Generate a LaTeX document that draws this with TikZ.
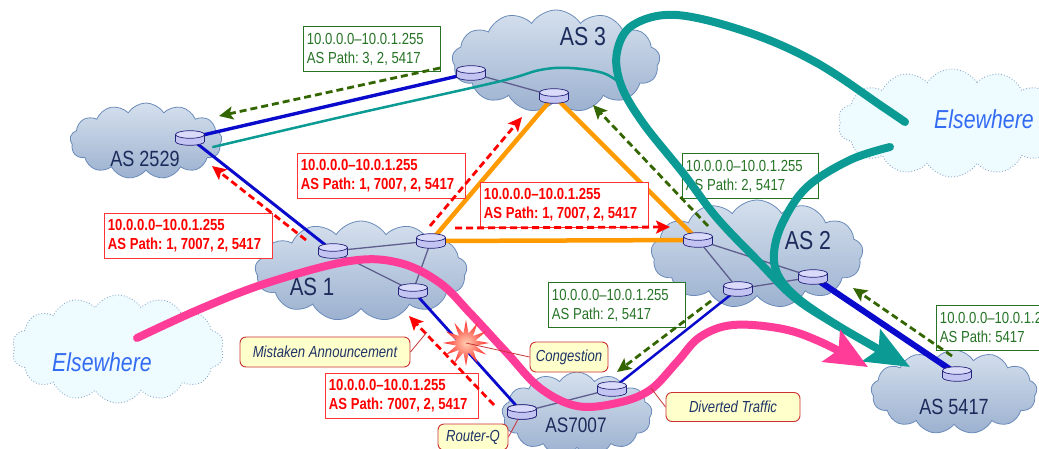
\documentclass[tikz,border=0pt]{standalone}
\usepackage{fontspec}
\setmainfont{Liberation Sans}[FakeStretch=0.82]
\frenchspacing
\usetikzlibrary{shapes.symbols,shapes.geometric,arrows.meta,calc}

\definecolor{cloudtop}{HTML}{D5E0ED}
\definecolor{cloudbot}{HTML}{9CB1D0}
\definecolor{cloudedge}{HTML}{6A8BBA}
\definecolor{skyfill}{HTML}{EEFCFF}
\definecolor{skyedge}{HTML}{8EA8C8}
\definecolor{skytext}{HTML}{336BF2}
\definecolor{asnavy}{HTML}{1B2B5B}
\definecolor{linkblue}{HTML}{0A0ACC}
\definecolor{linkgray}{HTML}{5E5E8E}
\definecolor{peerorange}{HTML}{FF9A00}
\definecolor{flowteal}{HTML}{0B9A94}
\definecolor{flowpink}{HTML}{FF3C98}
\definecolor{annred}{HTML}{FF0000}
\definecolor{anngreen}{HTML}{336600}
\definecolor{boxgreen}{HTML}{267326}
\definecolor{calloutfill}{HTML}{FFFFCC}
\definecolor{calloutedge}{HTML}{C83232}
\definecolor{callouttext}{HTML}{1E3366}
\definecolor{routerfill}{HTML}{C4C4F2}
\definecolor{routertop}{HTML}{DADAFA}
\definecolor{routeredge}{HTML}{23237A}

% a router: small cylinder centred on an existing coordinate
\newcommand\drawrouter[1]{%
  \filldraw[fill=routerfill, draw=routeredge, line width=0.7pt]
    ($(#1)+(0,3.5)$) ellipse [x radius=14.5pt, y radius=3.8pt];
  \fill[routerfill] ($(#1)+(-14.5,-3.5)$) rectangle ($(#1)+(14.5,3.5)$);
  \draw[routeredge, line width=0.7pt]
    ($(#1)+(-14.5,-3.5)$) -- ($(#1)+(-14.5,3.5)$)
    ($(#1)+(14.5,-3.5)$) -- ($(#1)+(14.5,3.5)$);
  \filldraw[fill=routertop, draw=routeredge, line width=0.7pt]
    ($(#1)+(0,-3.5)$) ellipse [x radius=14.5pt, y radius=3.8pt];
}
% a two-line route announcement, lines kept unbroken
\newcommand\prefixlines[1]{\mbox{10.0.0.0–10.0.1.255}\\\mbox{AS Path: #1}}

\begin{document}
\begin{tikzpicture}[x=1pt, y=-1pt,
  ascloud/.style={cloud, cloud puffs=13, cloud puff arc=115, cloud ignores aspect,
    draw=cloudedge, line width=0.8pt, top color=cloudtop, bottom color=cloudbot, inner sep=0pt},
  skycloud/.style={cloud, cloud puffs=14, cloud puff arc=115, cloud ignores aspect,
    draw=skyedge, dotted, line width=0.9pt, fill=skyfill, inner sep=0pt},
  aslabel/.style={text=asnavy, inner sep=0pt},
  skylabel/.style={text=skytext, inner sep=0pt, font=\fontsize{26}{30}\selectfont\itshape},
  bluelink/.style={linkblue, line cap=round},
  innerlink/.style={linkgray, line width=1.3pt},
  redbox/.style={draw=annred!80, fill=white, line width=0.9pt, anchor=north west, align=flush left,
    inner xsep=3.5pt, inner ysep=0pt, minimum height=45pt, text=annred,
    font=\fontsize{16}{19}\selectfont\bfseries},
  greenbox/.style={draw=boxgreen, fill=white, line width=0.9pt, anchor=north west, align=flush left,
    inner xsep=3.5pt, inner ysep=0pt, minimum height=45pt, text=boxgreen,
    font=\fontsize{16}{19}\selectfont},
  redann/.style={annred, line width=2.8pt, dash pattern=on 7pt off 4pt,
    -{Stealth[length=14pt, width=13pt, inset=3pt]}},
  greenann/.style={anngreen, line width=2.8pt, dash pattern=on 7pt off 4pt,
    -{Stealth[length=14pt, width=13pt, inset=3pt]}},
  callout/.style={draw=calloutedge, fill=calloutfill, rounded corners=6pt, line width=0.9pt,
    text=callouttext, inner sep=0pt, font=\fontsize{16}{19}\selectfont\itshape},
  pointer/.style={calloutedge, line width=0.8pt},
  flow/.style={line width=8pt, line cap=round}
]
\useasboundingbox (0,0) rectangle (1039,448);

% --- outside world
\node[skycloud, minimum width=212pt, minimum height=108pt] (skyL) at (118,349) {};
\node[skycloud, minimum width=228pt, minimum height=108pt] (skyR) at (952,123) {};
\node[skylabel] (skyLt) at (102,362) {Elsewhere};
\node[skylabel] (skyRt) at (984,119) {Elsewhere};

% --- autonomous systems
\node[ascloud, minimum width=152pt, minimum height=76pt] (c2529) at (146,141) {};
\node[ascloud, minimum width=208pt, minimum height=102pt] (c3) at (556,61) {};
\node[ascloud, minimum width=212pt, minimum height=100pt] (c1) at (361,271) {};
\node[ascloud, minimum width=212pt, minimum height=108pt] (c2) at (757,254) {};
\node[ascloud, minimum width=150pt, minimum height=84pt] (c7007) at (577,414) {};
\node[ascloud, minimum width=166pt, minimum height=84pt] (c5417) at (954,392) {};

\node[aslabel, font=\fontsize{22}{26}\selectfont] (l2529) at (145,159) {AS 2529};
\node[aslabel, font=\fontsize{26}{30}\selectfont] (l3) at (583,37) {AS 3};
\node[aslabel, font=\fontsize{25}{30}\selectfont] (l1) at (312,287) {AS 1};
\node[aslabel, font=\fontsize{26}{30}\selectfont] (l2) at (808,241) {AS 2};
\node[aslabel, font=\fontsize{21}{25}\selectfont] (l7007) at (576,425) {AS7007};
\node[aslabel, font=\fontsize{22}{26}\selectfont] (l5417) at (954,407) {AS 5417};

% --- router positions
\coordinate (r2529) at (190,138);
\coordinate (r3a) at (471,73);
\coordinate (r3b) at (554,96);
\coordinate (r1a) at (333,251);
\coordinate (r1b) at (431,241);
\coordinate (r1c) at (413,291);
\coordinate (r2a) at (698,240);
\coordinate (r2b) at (813,277);
\coordinate (r2c) at (738,289);
\coordinate (rq) at (522,412);
\coordinate (r7b) at (612,389);
\coordinate (r5417) at (957,374);

% --- internal links
\draw[innerlink] (r3a) -- (r3b);
\draw[innerlink] (r1a) -- (r1b) -- (r1c) -- (r1a);
\draw[innerlink] (r2a) -- (r2b) -- (r2c) -- (r2a);
\draw[innerlink] (rq) -- (r7b);

% --- inter-AS links
\draw[bluelink, line width=3.4pt] (r2529) -- (r3a);
\draw[bluelink, line width=3pt] (r2529) -- (r1a);
\draw[bluelink, line width=2.8pt] (r1c) -- (rq);
\draw[bluelink, line width=2.5pt] (r7b) -- (r2c);
\draw[bluelink, line width=6pt] (r2b) -- (r5417);
\draw[peerorange, line width=4.5pt, line join=round] (r1b) -- (r3b) -- (r2a) -- cycle;

% --- routers
\foreach \r in {r2529,r3a,r3b,r1a,r1b,r1c,r2a,r2b,r2c,rq,r7b,r5417} {\drawrouter{\r}}

% --- route announcements
\node[greenbox, text width=130pt] (g1) at (303,26) {\prefixlines{3, 2, 5417}};
\node[greenbox, text width=129pt] (g2) at (682,153) {\prefixlines{2, 5417}};
\node[greenbox, text width=130pt] (g3) at (548,282) {\prefixlines{2, 5417}};
\node[greenbox, text width=130pt] (g4) at (936,305) {\prefixlines{5417}};

\node[redbox, text width=161pt] (rb1) at (297,153) {\prefixlines{1, 7007, 2, 5417}};
\node[redbox, text width=161pt] (rb2) at (480,182) {\prefixlines{1, 7007, 2, 5417}};
\node[redbox, text width=161pt] (rb3) at (104,213) {\prefixlines{1, 7007, 2, 5417}};
\node[redbox, text width=146pt] (rb4) at (325,373) {\prefixlines{7007, 2, 5417}};

% announcement directions
\coordinate (ga1s) at (440,68);  \coordinate (ga1e) at (219,116);
\coordinate (ga2s) at (708,226); \coordinate (ga2e) at (593,105);
\coordinate (ga3s) at (711,301); \coordinate (ga3e) at (617,372);
\coordinate (ga4s) at (952,356); \coordinate (ga4e) at (853,288);
\draw[greenann] (ga1s) -- (ga1e);
\draw[greenann] (ga2s) -- (ga2e);
\draw[greenann] (ga3s) -- (ga3e);
\draw[greenann] (ga4s) -- (ga4e);

\coordinate (ra1s) at (306,240); \coordinate (ra1e) at (212,166);
\coordinate (ra2s) at (430,226); \coordinate (ra2e) at (522,117);
\coordinate (ra3s) at (455,228); \coordinate (ra3e) at (670,227);
\coordinate (ra4s) at (494,405); \coordinate (ra4e) at (409,316);
\draw[redann] (ra1s) -- (ra1e);
\draw[redann] (ra2s) -- (ra2e);
\draw[redann] (ra3s) -- (ra3e);
\draw[redann] (ra4s) -- (ra4e);

% --- traffic flows
\draw[flowteal, line width=2.5pt, line cap=round] plot[smooth, tension=0.6] coordinates
  {(213,147) (350,115) (497,82) (540,70) (570,68) (603,73) (621,84)};
\draw[flowteal, flow, -{Stealth[length=44pt, width=36pt, inset=8pt]}] plot[smooth, tension=0.6] coordinates
  {(905,122) (883,107) (817,63) (750,33) (677,15) (633,25) (617,52) (621,85) (643,123)
   (683,173) (717,218) (760,263) (795,298) (840,327) (910,367)};
\draw[flowteal, flow] plot[smooth, tension=0.6] coordinates
  {(890,147) (850,160) (807,187) (783,222) (774,253) (779,277) (800,300) (838,326)};
\draw[flowpink, flow, -{Stealth[length=42pt, width=36pt, inset=8pt]}] plot[smooth, tension=0.6] coordinates
  {(137,338) (200,309) (267,283) (350,261) (400,263) (440,283) (470,313) (507,353)
   (540,388) (577,406) (617,403) (650,390) (677,362) (700,337) (733,325) (783,329)
   (823,343) (868,367)};

% --- notes
\node[callout, minimum width=170pt, minimum height=30pt] (mist) at (325,352) {Mistaken Announcement};
\node[callout, minimum width=78pt, minimum height=30pt] (cong) at (569,357) {Congestion};
\node[callout, minimum width=70pt, minimum height=26pt] (qnote) at (473,437) {Router-Q};
\node[callout, minimum width=134pt, minimum height=29pt] (divnote) at (733,407) {Diverted Traffic};

\coordinate (mistTip) at (427,332);
\coordinate (divTip) at (651,388);
\draw[pointer] (mist.east) -- (mistTip);
\draw[pointer] (qnote.east) -- (rq);
\draw[pointer] (divnote.west) -- (divTip);
\node[star, star points=12, star point ratio=2.3, minimum size=46pt, inner sep=0pt,
      inner color=red!20!orange!30, outer color=red!85!white] (jam) at (466,343) {};
\draw[pointer] (cong.west) -- (jam.center);
\drawrouter{rq}

\end{tikzpicture}
\end{document}
